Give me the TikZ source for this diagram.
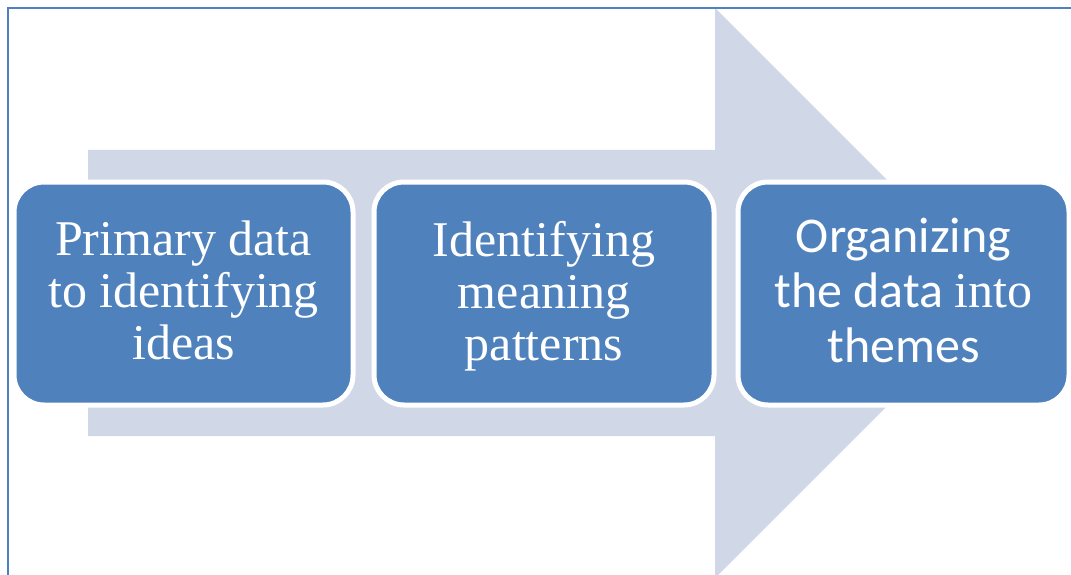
\documentclass[tikz,border=0pt]{standalone}
\usepackage{fontspec}
\setmainfont{Liberation Serif}
\newfontfamily\timesfont{Liberation Serif}
\newfontfamily\calibrifont{Carlito}
\definecolor{stepblue}{RGB}{79,129,189}
\definecolor{arrowgray}{RGB}{208,216,232}
\tikzset{
  stepbox/.style={draw=white, line width=5pt, fill=stepblue, rounded corners=30pt,
    minimum height=223pt, text=white, align=center, inner sep=0pt,
    font=\timesfont\fontsize{50}{52}\selectfont, text depth=6pt},
}
\begin{document}
\begin{tikzpicture}[x=1pt, y=-1pt]
\useasboundingbox (0,0) rectangle (1071,575);

% big arrow behind the steps
\path[fill=arrowgray] (88,150) -- (715,150) -- (715,8) -- (1000,293)
  -- (715,578) -- (715,436) -- (88,436) -- cycle;

% frame
\path[draw, stepblue, line width=1.6pt] (1080,8) -- (8,8) -- (8,590);

\node[stepbox, minimum width=339pt] (primary) at (183.5,293.5)
  {Primary data\\to identifying\\ideas};
\node[stepbox, minimum width=340pt] (meaning) at (544,293.5)
  {Identifying\\meaning\\patterns};
\node[stepbox, minimum width=331pt, font=\calibrifont\fontsize{50}{55}\selectfont] (themes) at (903.5,293.5)
  {Organizing\\the data {\timesfont into}\\themes};
\end{tikzpicture}
\end{document}
